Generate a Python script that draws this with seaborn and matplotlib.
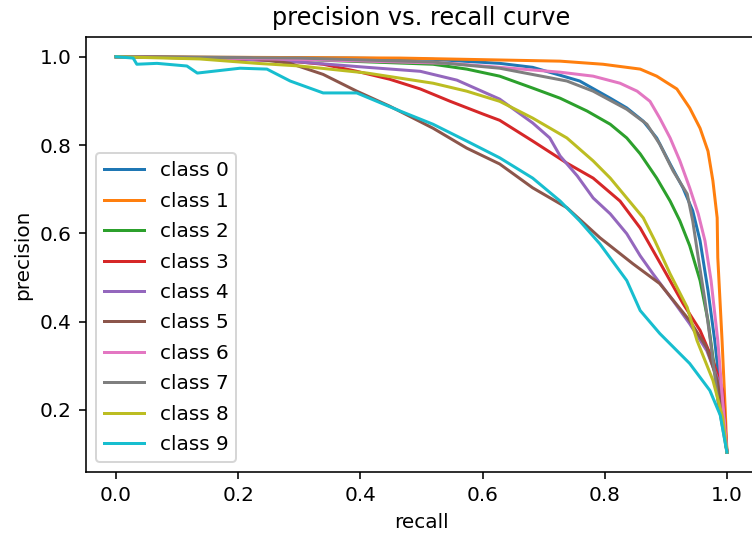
import matplotlib
matplotlib.use("Agg")
import matplotlib.pyplot as plt
import seaborn as sns
import pandas as pd

# values (recall, precision)
recall_0 = [0, 0.383, 0.519, 0.628, 0.682, 0.727, 0.759, 0.809, 0.836, 0.863, 0.885, 0.907, 0.928, 0.944, 0.956, 0.969, 0.980, 0.989, 1.0]
precision_0 = [1, 0.997, 0.994, 0.985, 0.976, 0.958, 0.945, 0.906, 0.884, 0.854, 0.816, 0.757, 0.703, 0.651, 0.583, 0.470, 0.357, 0.244, 0.104]

recall_1 = [0, 0.465, 0.727, 0.797, 0.858, 0.885, 0.918, 0.939, 0.956, 0.969, 0.977, 0.984, 0.985, 0.992, 0.997, 1.0]
precision_1 = [1, 0.997, 0.990, 0.983, 0.972, 0.956, 0.927, 0.884, 0.838, 0.786, 0.719, 0.635, 0.545, 0.357, 0.206, 0.104]

recall_2 = [0, 0.301, 0.519, 0.574, 0.628, 0.682, 0.727, 0.771, 0.809, 0.836, 0.858, 0.885, 0.907, 0.923, 0.939, 0.956, 0.969, 0.977, 0.989, 1.0]
precision_2 = [1, 0.994, 0.983, 0.972, 0.956, 0.929, 0.906, 0.877, 0.847, 0.816, 0.780, 0.725, 0.673, 0.628, 0.572, 0.493, 0.402, 0.319, 0.222, 0.104]

recall_3 = [0, 0.137, 0.285, 0.339, 0.394, 0.448, 0.498, 0.547, 0.601, 0.628, 0.682, 0.738, 0.781, 0.825, 0.858, 0.895, 0.928, 0.956, 0.977, 0.993, 1.0]
precision_3 = [1, 0.997, 0.990, 0.983, 0.967, 0.949, 0.927, 0.899, 0.870, 0.856, 0.809, 0.759, 0.725, 0.673, 0.612, 0.522, 0.441, 0.380, 0.312, 0.244, 0.104]

recall_4 = [0, 0.170, 0.301, 0.411, 0.498, 0.558, 0.628, 0.682, 0.710, 0.727, 0.755, 0.781, 0.809, 0.836, 0.858, 0.879, 0.912, 0.939, 0.967, 0.989, 1.0]
precision_4 = [1, 0.997, 0.988, 0.976, 0.967, 0.947, 0.904, 0.850, 0.816, 0.775, 0.730, 0.680, 0.644, 0.599, 0.549, 0.508, 0.447, 0.395, 0.334, 0.255, 0.104]

recall_5 = [0, 0.219, 0.285, 0.339, 0.394, 0.448, 0.519, 0.574, 0.628, 0.682, 0.738, 0.792, 0.846, 0.890, 0.939, 0.967, 0.984, 0.993, 1.0]
precision_5 = [1, 0.997, 0.985, 0.960, 0.922, 0.888, 0.838, 0.793, 0.757, 0.703, 0.658, 0.590, 0.531, 0.486, 0.402, 0.341, 0.267, 0.183, 0.104]

recall_6 = [0, 0.301, 0.547, 0.727, 0.781, 0.825, 0.853, 0.874, 0.890, 0.907, 0.923, 0.939, 0.953, 0.964, 0.974, 0.985, 0.993, 1.0]
precision_6 = [1, 0.994, 0.985, 0.965, 0.956, 0.940, 0.922, 0.899, 0.861, 0.816, 0.764, 0.703, 0.644, 0.583, 0.493, 0.357, 0.221, 0.104]

recall_7 = [0, 0.301, 0.519, 0.628, 0.738, 0.781, 0.836, 0.869, 0.890, 0.912, 0.935, 0.944, 0.953, 0.964, 0.975, 0.985, 1.0]
precision_7 = [1, 0.997, 0.988, 0.974, 0.945, 0.922, 0.881, 0.847, 0.802, 0.741, 0.689, 0.628, 0.545, 0.448, 0.335, 0.222, 0.104]

recall_8 = [0, 0.137, 0.231, 0.301, 0.411, 0.519, 0.574, 0.628, 0.682, 0.738, 0.781, 0.809, 0.836, 0.863, 0.882, 0.907, 0.935, 0.951, 0.977, 0.993, 1.0]
precision_8 = [1, 0.995, 0.985, 0.979, 0.963, 0.940, 0.922, 0.899, 0.861, 0.816, 0.764, 0.725, 0.680, 0.635, 0.583, 0.508, 0.432, 0.357, 0.267, 0.183, 0.104]

recall_9 = [0, 0.028, 0.034, 0.067, 0.116, 0.133, 0.203, 0.247, 0.285, 0.339, 0.394, 0.465, 0.519, 0.574, 0.628, 0.682, 0.727, 0.759, 0.792, 0.836, 0.858, 0.890, 0.939, 0.972, 0.989, 1.0]
precision_9 = [1, 0.997, 0.983, 0.985, 0.979, 0.963, 0.974, 0.972, 0.945, 0.918, 0.918, 0.877, 0.847, 0.809, 0.771, 0.725, 0.673, 0.628, 0.576, 0.493, 0.425, 0.373, 0.305, 0.244, 0.188, 0.104]

recalls = [recall_0, recall_1, recall_2, recall_3, recall_4,
           recall_5, recall_6, recall_7, recall_8, recall_9]
precisions = [precision_0, precision_1, precision_2, precision_3, precision_4,
              precision_5, precision_6, precision_7, precision_8, precision_9]
labels = [f"class {i}" for i in range(10)]

colors = sns.color_palette("tab10", 10)

fig = plt.figure(figsize=(752 / 144, 535 / 144), dpi=144)
ax = fig.add_axes([0.1137, 0.1178, 0.8936, 0.8131])

for i in range(10):
    df = pd.DataFrame({"recall": recalls[i], "precision": precisions[i]})
    sns.lineplot(data=df, x="recall", y="precision", ax=ax, color=colors[i],
                 label=labels[i], sort=False, estimator=None, lw=1.5)

ax.set_xlabel("recall")
ax.set_ylabel("precision")
ax.set_title("precision vs. recall curve")
ax.legend(loc="lower left", labelspacing=0.57)

fig.savefig("out.png", dpi=144)
